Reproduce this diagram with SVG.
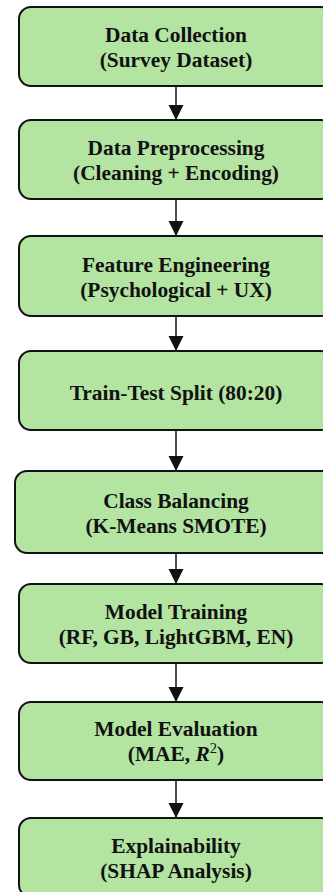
<svg xmlns="http://www.w3.org/2000/svg" width="323" height="892" viewBox="0 0 323 892">
<style>
.box{fill:#b3e4a2;stroke:#111;stroke-width:2}
.t{font-family:"Liberation Serif","Times New Roman",serif;font-weight:bold;font-size:21.4px;fill:#111;text-anchor:middle}
.c{stroke:#222;stroke-width:1.6;fill:none}
</style>
<defs>
<marker id="ah" markerUnits="userSpaceOnUse" markerWidth="16" markerHeight="16" viewBox="0 0 16 16" refX="15" refY="8" orient="auto">
<path d="M0,0.5 L15,8 L0,15.5 Z" fill="#111"/>
</marker>
</defs>
<rect width="323" height="892" fill="#fff"/>
<g id="connectors">
<line class="c" x1="176" y1="86" x2="176" y2="120" marker-end="url(#ah)"/>
<line class="c" x1="176" y1="199" x2="176" y2="236" marker-end="url(#ah)"/>
<line class="c" x1="176" y1="316" x2="176" y2="351" marker-end="url(#ah)"/>
<line class="c" x1="176" y1="430" x2="176" y2="471" marker-end="url(#ah)"/>
<line class="c" x1="176" y1="553" x2="176" y2="584" marker-end="url(#ah)"/>
<line class="c" x1="176" y1="663" x2="176" y2="702" marker-end="url(#ah)"/>
<line class="c" x1="176" y1="780" x2="176" y2="818" marker-end="url(#ah)"/>
</g>
<g id="n1"><rect class="box" x="19" y="7" width="314" height="79" rx="12"/>
<text class="t" x="176" y="42">Data Collection</text><text class="t" x="176" y="67">(Survey Dataset)</text></g>
<g id="n2"><rect class="box" x="19" y="120" width="314" height="79" rx="12"/>
<text class="t" x="176" y="155">Data Preprocessing</text><text class="t" x="176" y="180">(Cleaning + Encoding)</text></g>
<g id="n3"><rect class="box" x="19" y="236" width="314" height="80" rx="12"/>
<text class="t" x="176" y="272">Feature Engineering</text><text class="t" x="176" y="297">(Psychological + UX)</text></g>
<g id="n4"><rect class="box" x="19" y="351" width="314" height="79" rx="12"/>
<text class="t" x="176" y="400">Train-Test Split (80:20)</text></g>
<g id="n5"><rect class="box" x="15" y="471" width="322" height="82" rx="12"/>
<text class="t" x="176" y="508">Class Balancing</text><text class="t" x="176" y="533">(K-Means SMOTE)</text></g>
<g id="n6"><rect class="box" x="19" y="584" width="314" height="79" rx="12"/>
<text class="t" x="176" y="619">Model Training</text><text class="t" x="176" y="644">(RF, GB, LightGBM, EN)</text></g>
<g id="n7"><rect class="box" x="19" y="702" width="314" height="78" rx="12"/>
<text class="t" x="176" y="736">Model Evaluation</text><text class="t" x="176" y="761">(MAE, <tspan font-style="italic">R</tspan><tspan font-weight="normal" font-size="14.5" dy="-8">2</tspan><tspan dy="8">)</tspan></text></g>
<g id="n8"><rect class="box" x="19" y="818" width="314" height="79" rx="12"/>
<text class="t" x="176" y="853">Explainability</text><text class="t" x="176" y="878">(SHAP Analysis)</text></g>
</svg>
